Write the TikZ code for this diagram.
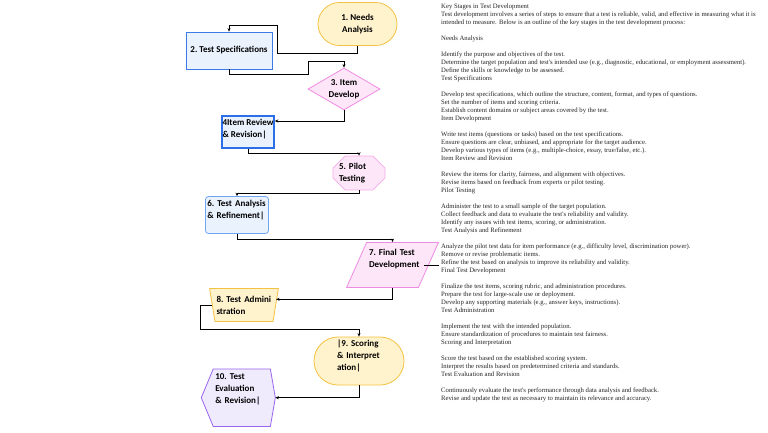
\documentclass[tikz,border=0pt]{standalone}
\usepackage{fontspec}
\usepackage{tikz}
\usetikzlibrary{arrows.meta,shapes.geometric,shapes.misc,backgrounds}
\newfontfamily\stepfont{Carlito}
\newfontfamily\notefont{Liberation Serif}
\newcommand\stagefont{\stepfont\bfseries\fontsize{9}{12}\selectfont\frenchspacing\hyphenpenalty=10000\relax}
\definecolor{yfill}{HTML}{FFF3CD}
\definecolor{yline}{HTML}{F4C242}
\definecolor{bfill}{HTML}{EAF2FD}
\definecolor{bline}{HTML}{3B7BE6}
\definecolor{bdark}{HTML}{2A6FE6}
\definecolor{blight}{HTML}{6EA6F2}
\definecolor{pfill}{HTML}{FDE6F7}
\definecolor{pline}{HTML}{EE8BE2}
\definecolor{plight}{HTML}{F4ADE8}
\definecolor{vfill}{HTML}{EFEBFD}
\definecolor{vline}{HTML}{9A66F0}

\begin{document}
\begin{tikzpicture}[x=1pt, y=-1pt,
  stage/.style={draw, line width=0.8pt, font=\stagefont, inner sep=1pt},
  yellowstage/.style={stage, fill=yfill, draw=yline},
  bluestage/.style={stage, fill=bfill, draw=bline},
  pinkstage/.style={stage, fill=pfill, draw=pline},
  link/.style={-{Stealth[length=3.5pt,width=3pt]}, line width=0.7pt}]
\useasboundingbox (0,0) rectangle (768,432);
\begin{scope}[on background layer]
  \fill[white] (0,0) rectangle (768,432);
\end{scope}
% Nodes
\node[yellowstage, rounded corners=21.5pt, minimum width=79pt, minimum height=43pt, align=center] (1) at (357.5,24) {1. Needs\\Analysis};
\node[bluestage, minimum width=86pt, minimum height=37pt, align=center] (2) at (229,50.5) {2. Test Specifications};
\node[pinkstage, diamond, aspect=1.714, inner sep=0pt, minimum width=72pt, minimum height=42pt, align=center] (3) at (344,89) {3. Item\\Develop};
\node[bluestage, draw=bdark, line width=1.5pt, minimum width=52pt, minimum height=32pt, align=left, inner sep=0.5pt, text depth=6.5pt] (4) at (248,132) {4Item Review\\\& Revision|};
\node[pinkstage, draw=plight, chamfered rectangle, chamfered rectangle xsep=6pt, chamfered rectangle ysep=6pt, minimum width=52pt, minimum height=33pt, text width=40pt, align=left, inner xsep=0pt] (5) at (359,173) {5. Pilot\\Testing};
\node[bluestage, draw=blight, rounded corners=3pt, minimum width=63pt, minimum height=37pt, text width=59.4pt, align=left, inner sep=0.8pt, text depth=22.5pt] (6) at (237,215) {6. Test Analysis\\\& Refinement|};
\node[pinkstage, trapezium, trapezium left angle=60, trapezium right angle=120, trapezium stretches=true, minimum width=92pt, minimum height=45pt, text width=47pt, align=left, text depth=24.5pt] (7) at (392.5,265) {7. Final Test\\Development};
\node[yellowstage, trapezium, trapezium left angle=104, trapezium right angle=104, trapezium stretches=true, minimum width=69pt, minimum height=33pt, text width=55pt, align=left, inner xsep=0pt] (8) at (244,305) {8. Test Admini\\stration};
\node[yellowstage, rounded corners=24pt, minimum width=90pt, minimum height=48pt, text width=44pt, align=left, text depth=36.5pt] (9) at (359,361) {|9. Scoring\\\& Interpret\\ation|};
\node[stage, draw=none, minimum width=73.3pt, minimum height=56.7pt, text width=46pt, align=left, inner xsep=0pt, text depth=42.5pt] (10) at (238.3,397.7) {10. Test\\Evaluation\\\& Revision|};
\begin{scope}[on background layer]
  \filldraw[fill=vfill, draw=vline, line width=0.8pt] (10.west) -- ([xshift=12pt]10.north west) -- ([xshift=-5pt]10.north east)
    -- (10.east) -- ([xshift=-5pt]10.south east) -- ([xshift=12pt]10.south west) -- cycle;
\end{scope}
% Edges
\draw[link] (1.south) -- ++(0,7) -- ++(-80,0) -- ++(0,-28) -| (2);
\draw[link] (2.south) -- ++(0,5) -- ++(79,0) -- ++(0,-13) -| (3);
\draw[link] (3.south) |- ([yshift=11pt]4.east);
\foreach \source/\target/\drop in {4/5/4.3, 5/6/3.3, 6/7/5} {
  \draw[link] (\source.south) -- ++(0,\drop) -| (\target);
}
\draw[line width=0.7pt] ([xshift=-5pt]7.east) -- ++(15,0);
\draw[link] (7) |- ([yshift=5.7pt]8.east);
\draw[link] (8.west) -- ++(-12,0) -- ++(0,24) -| (9);
\draw[link] (9) |- (10);
% Notes
\node[anchor=north west, inner sep=0pt, align=left, text=black!85, font=\notefont\fontsize{6.7}{8}\selectfont] (notes) at (441,3.5) {Key Stages in Test Development\\
Test development involves a series of steps to ensure that a test is reliable, valid, and effective in measuring what it is\\
intended to measure. Below is an outline of the key stages in the test development process:\\[8pt]
Needs Analysis\\[8pt]
Identify the purpose and objectives of the test.\\
Determine the target population and test's intended use (e.g., diagnostic, educational, or employment assessment).\\
Define the skills or knowledge to be assessed.\\
Test Specifications\\[8pt]
Develop test specifications, which outline the structure, content, format, and types of questions.\\
Set the number of items and scoring criteria.\\
Establish content domains or subject areas covered by the test.\\
Item Development\\[8pt]
Write test items (questions or tasks) based on the test specifications.\\
Ensure questions are clear, unbiased, and appropriate for the target audience.\\
Develop various types of items (e.g., multiple-choice, essay, true/false, etc.).\\
Item Review and Revision\\[8pt]
Review the items for clarity, fairness, and alignment with objectives.\\
Revise items based on feedback from experts or pilot testing.\\
Pilot Testing\\[8pt]
Administer the test to a small sample of the target population.\\
Collect feedback and data to evaluate the test's reliability and validity.\\
Identify any issues with test items, scoring, or administration.\\
Test Analysis and Refinement\\[8pt]
Analyze the pilot test data for item performance (e.g., difficulty level, discrimination power).\\
Remove or revise problematic items.\\
Refine the test based on analysis to improve its reliability and validity.\\
Final Test Development\\[8pt]
Finalize the test items, scoring rubric, and administration procedures.\\
Prepare the test for large-scale use or deployment.\\
Develop any supporting materials (e.g., answer keys, instructions).\\
Test Administration\\[8pt]
Implement the test with the intended population.\\
Ensure standardization of procedures to maintain test fairness.\\
Scoring and Interpretation\\[8pt]
Score the test based on the established scoring system.\\
Interpret the results based on predetermined criteria and standards.\\
Test Evaluation and Revision\\[8pt]
Continuously evaluate the test's performance through data analysis and feedback.\\
Revise and update the test as necessary to maintain its relevance and accuracy.};
\end{tikzpicture}
\end{document}
